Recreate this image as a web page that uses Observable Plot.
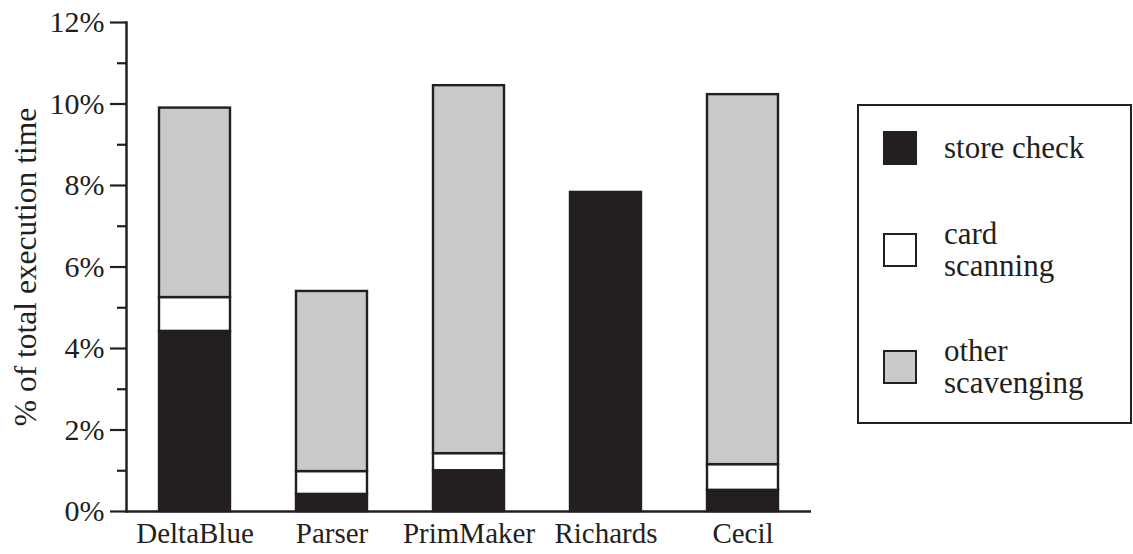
<!DOCTYPE html>
<html><head><meta charset="utf-8">
<script src="https://cdn.jsdelivr.net/npm/d3@7"></script>
<script src="https://cdn.jsdelivr.net/npm/@observablehq/plot@0.6"></script>
<style>
body{margin:0;background:#fff;}
#wrap{position:relative;width:1133px;height:554px;font-family:"Liberation Serif","DejaVu Serif",serif;color:#231f20;}
#wrap svg text{font-family:"Liberation Serif","DejaVu Serif",serif;}
#legend{position:absolute;left:857px;top:104px;width:275px;height:320px;border:2.5px solid #231f20;box-sizing:border-box;}
.item{position:absolute;left:24px;display:flex;align-items:center;height:34px;}
.sw{width:34px;height:34px;box-sizing:border-box;border:2.5px solid #231f20;flex:none;}
.lab{margin-left:27px;font-size:31px;line-height:32px;white-space:nowrap;}
</style></head>
<body><div id="wrap"><div id="legend"></div></div>
<script>
const programs = ["DeltaBlue", "Parser", "PrimMaker", "Richards", "Cecil"];
const storeCheck = [4.42, 0.42, 1.00, 7.83, 0.52];
const cardScanning = [0.83, 0.56, 0.42, 0, 0.63];
const otherScavenging = [4.65, 4.42, 9.03, 0, 9.08];
const components = ["store check", "card scanning", "other scavenging"];
const legendLines = [["store check"], ["card", "scanning"], ["other", "scavenging"]];
const componentColors = ["#231f20", "#ffffff", "#c8c9cb"];
const yTicks = [0, 2, 4, 6, 8, 10, 12];
const yMinorTicks = [1, 3, 5, 7, 9, 11];

const series = [storeCheck, cardScanning, otherScavenging];
const rows = [];
programs.forEach((p, i) => series.forEach((s, j) => {
  if (s[i] > 0) rows.push({program: p, component: components[j], value: s[i]});
}));

const ink = "#231f20";
const chart = Plot.plot({
  width: 1133, height: 554,
  marginLeft: 126, marginRight: 322, marginTop: 22, marginBottom: 43,
  style: {fontFamily: "'Liberation Serif', 'DejaVu Serif', serif", fontSize: "30px", color: ink, background: "white"},
  x: {domain: programs, paddingInner: 0.48, paddingOuter: 0.24, align: 0.5},
  y: {domain: [0, 12]},
  color: {domain: components, range: componentColors},
  marks: [
    Plot.barY(rows, Plot.stackY({x: "program", y: "value", fill: "component", stroke: ink, strokeWidth: 2.4})),
    Plot.axisY({ticks: yTicks, tickFormat: d => d + "%", tickSize: 16, tickPadding: 6, stroke: ink, strokeWidth: 2.2, fill: ink, fontSize: 30, label: null}),
    Plot.axisY({ticks: yTicks, tickFormat: () => "", tickSize: 0, fill: ink, fontSize: 31.5,
      label: "% of total execution time", labelAnchor: "center", labelOffset: 113, labelArrow: "none"}),
    Plot.axisY({ticks: yMinorTicks, tickFormat: () => "", tickSize: 9, stroke: ink, strokeWidth: 2.2, label: null}),
    Plot.axisX({tickSize: 0, tickPadding: 11, fontSize: 29, fill: ink, label: null}),
    Plot.ruleY([0], {stroke: ink, strokeWidth: 2.5}),
    Plot.frame({anchor: "left", stroke: ink, strokeWidth: 2.5})
  ]
});
document.getElementById("wrap").prepend(chart);

const legendTops = [25, 127, 244];
const legend = document.getElementById("legend");
components.forEach((c, i) => {
  const item = document.createElement("div");
  item.className = "item";
  item.style.top = legendTops[i] + "px";
  const sw = document.createElement("div");
  sw.className = "sw";
  sw.style.background = componentColors[i];
  const lab = document.createElement("div");
  lab.className = "lab";
  lab.innerHTML = legendLines[i].join("<br>");
  item.append(sw, lab);
  legend.append(item);
});
</script></body></html>
